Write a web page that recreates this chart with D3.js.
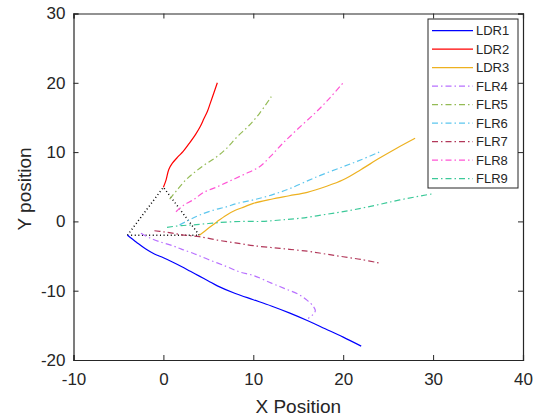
<!DOCTYPE html>
<html><head><meta charset="utf-8">
<script src="https://cdn.jsdelivr.net/npm/d3@7"></script>
<style>body{margin:0;background:#fff}svg{display:block}text{font-family:"Liberation Sans",Arial,sans-serif;fill:#262626}</style>
</head><body><svg id="c" width="537" height="418"></svg>
<script>
const xTicks=[-10,0,10,20,30,40];
const yTicks=[-20,-10,0,10,20,30];
const names=["LDR1","LDR2","LDR3","FLR4","FLR5","FLR6","FLR7","FLR8","FLR9"];
const colors=["#0000ff","#ff0000","#edb120","#b870ff","#94bb55","#5cc6ee","#b2385a","#ff55d5","#3cc999"];
const dashed=[false,false,false,true,true,true,true,true,true];
const LDR1=[[-4,-2],[-3,-3],[-2,-3.95],[-1,-4.7],[0,-5.25],[1,-5.85],[2,-6.5],[3,-7.2],[4,-7.9],[5,-8.6],[6,-9.3],[8,-10.4],[10,-11.3],[12,-12.2],[14,-13.2],[16,-14.3],[18,-15.5],[20,-16.7],[22,-18]];
const LDR2=[[0,4.93],[0.3,6],[0.6,7.5],[1,8.4],[1.6,9.3],[2.2,10.1],[2.9,11.3],[3.6,12.6],[4.1,13.7],[4.5,14.8],[4.9,15.9],[5.2,17],[5.6,18.5],[6,20]];
const LDR3=[[4,-2],[5,-1],[6,0],[7,0.9],[8,1.6],[9,2.1],[10,2.6],[12,3.2],[14,3.7],[16,4.2],[18,5],[20,6],[22,7.5],[24,9.1],[26,10.6],[28,12]];
const FLR4=[[-2.5,-1.7],[-1.5,-2.4],[-0.5,-2.9],[1,-3.5],[2,-4],[3.3,-4.6],[5,-5.5],[7,-6.5],[8.5,-7.3],[10,-7.8],[12,-8.9],[13.5,-9.7],[15,-10.5],[16,-11.4],[16.7,-12.3],[16.9,-12.9],[16.6,-13.5],[16.1,-14]];
const FLR5=[[0.7,3.2],[1.5,4.5],[2.5,6],[3.3,6.9],[4.5,8.1],[5.9,9.3],[7,10.5],[8.2,12.2],[9.5,13.8],[10.7,15.6],[12,18]];
const FLR6=[[1.8,-0.5],[3,0.3],[4,0.9],[5.5,1.6],[7,2.1],[8.2,2.6],[10,3.1],[12,3.8],[14,4.7],[17,6.4],[20,7.9],[22,8.9],[24,10]];
const FLR7=[[-1,-1.35],[0,-1.5],[1,-1.7],[2.5,-2],[4,-2.2],[6,-2.7],[8,-3.1],[10,-3.5],[13,-3.9],[16,-4.3],[18,-4.7],[20,-5.1],[22,-5.5],[24,-6]];
const FLR8=[[1.4,1.4],[2.2,2.3],[3.3,3.1],[4.5,4.2],[6,5],[7.5,5.9],[9,6.8],[10.7,7.9],[12,9.5],[13.3,11.3],[15,13.4],[17,15.8],[18.5,17.8],[20,20]];
const FLR9=[[0.4,-0.85],[2,-0.6],[3.3,-0.5],[5,-0.3],[7,-0.1],[9,0],[11,0],[13,0.2],[15.2,0.45],[18,1],[20.8,1.6],[23.5,2.3],[26.3,3.1],[30,4]];
const triangle=[[-4,-2],[0,4.93],[4,-2],[-4,-2]];
const series=[LDR1,LDR2,LDR3,FLR4,FLR5,FLR6,FLR7,FLR8,FLR9];

const svg=d3.select("#c");
const L=73.5,R=523,T=13.5,B=360;
const x=d3.scaleLinear().domain([-10,40]).range([L,R]);
const y=d3.scaleLinear().domain([-20,30]).range([B,T]);
const line=d3.line().x(d=>x(d[0])).y(d=>y(d[1])).curve(d3.curveCatmullRom.alpha(0.5));
const axisColor="#262626";

svg.append("path").attr("d",d3.line().x(d=>x(d[0])).y(d=>y(d[1]))(triangle))
  .attr("fill","none").attr("stroke","#000").attr("stroke-width",1.5).attr("stroke-dasharray","1,2.6");

series.forEach((s,i)=>{
  svg.append("path").attr("d",line(s)).attr("fill","none").attr("stroke",colors[i])
    .attr("stroke-width",1.2).attr("stroke-dasharray",dashed[i]?"6,3,1.5,3":null);
});

const gB=svg.append("g").attr("transform",`translate(0,${B})`).call(d3.axisBottom(x).tickValues(xTicks).tickSize(-5).tickPadding(13));
const gT=svg.append("g").attr("transform",`translate(0,${T})`).call(d3.axisTop(x).tickValues(xTicks).tickSize(-5).tickFormat(""));
const gL=svg.append("g").attr("transform",`translate(${L},0)`).call(d3.axisLeft(y).tickValues(yTicks).tickSize(-5).tickPadding(8));
const gR=svg.append("g").attr("transform",`translate(${R},0)`).call(d3.axisRight(y).tickValues(yTicks).tickSize(-5).tickFormat(""));
[gB,gT,gL,gR].forEach(g=>{
  g.select(".domain").attr("stroke",axisColor).attr("stroke-width",1.2);
  g.selectAll(".tick line").attr("stroke",axisColor);
  g.selectAll("text").attr("font-size",17).attr("fill",axisColor).attr("font-family","Liberation Sans, Arial, sans-serif");
});
gB.selectAll("text").text(d=>d<0?"-"+Math.abs(d):d);
gL.selectAll("text").text(d=>d<0?"-"+Math.abs(d):d);

svg.append("text").attr("x",(L+R)/2).attr("y",413).attr("text-anchor","middle").attr("font-size",19).text("X Position");
svg.append("text").attr("transform",`translate(31,189) rotate(-90)`).attr("text-anchor","middle").attr("font-size",19).text("Y position");

const lg=svg.append("g");
lg.append("rect").attr("x",428).attr("y",19).attr("width",90).attr("height",169).attr("fill","#fff").attr("stroke",axisColor).attr("stroke-width",1);
names.forEach((n,i)=>{
  const yy=30.7+i*18.5;
  lg.append("line").attr("x1",432).attr("x2",473).attr("y1",yy).attr("y2",yy).attr("stroke",colors[i]).attr("stroke-width",1.2)
    .attr("stroke-dasharray",dashed[i]?"6,3,1.5,3":null);
  lg.append("text").attr("x",476).attr("y",yy).attr("dy","0.35em").attr("font-size",13).text(n);
});
</script></body></html>
